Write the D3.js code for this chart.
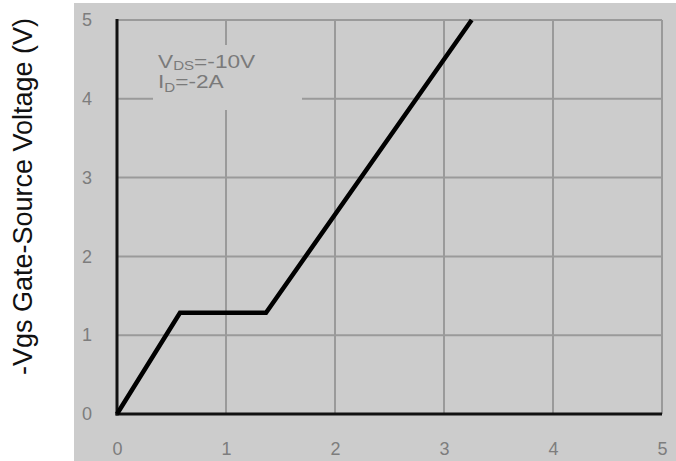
<!DOCTYPE html>
<html>
<head>
<meta charset="utf-8">
<script src="https://cdn.jsdelivr.net/npm/d3@7"></script>
<style>
html,body{margin:0;padding:0;background:#fff;}
svg{display:block;}
</style>
</head>
<body>
<svg id="chart" width="676" height="461"></svg>
<script>
// Data
const chargeX = [0, 0.578, 1.367, 3.254];      // x axis values (unlabelled, 0..5)
const vgsY    = [0, 1.285, 1.285, 5.0];        // -Vgs (V)
const xTicks  = [0, 1, 2, 3, 4, 5];
const yTicks  = [0, 1, 2, 3, 4, 5];
const yTitle  = "-Vgs Gate-Source Voltage (V)";
const noteLines = [
  {main: "V", sub: "DS", rest: "=-10V"},
  {main: "I", sub: "D", rest: "=-2A"}
];

const svg = d3.select("#chart");
const W = 676, H = 461;
const bg = "#cccccc";

svg.append("rect").attr("x", 0).attr("y", 0).attr("width", W).attr("height", H).attr("fill", "#fff");
svg.append("rect").attr("x", 74).attr("y", 3).attr("width", W - 74).attr("height", H - 3).attr("fill", bg);

const x = d3.scaleLinear().domain([0, 5]).range([117, 662]);
const y = d3.scaleLinear().domain([0, 5]).range([414, 20]);

// grid
const grid = svg.append("g").attr("stroke", "#9a9a9a").attr("stroke-width", 2);
grid.selectAll("line.v").data(xTicks.filter(d => d > 0)).enter().append("line")
  .attr("x1", d => x(d)).attr("x2", d => x(d))
  .attr("y1", y(0)).attr("y2", y(5));
grid.selectAll("line.h").data(yTicks.filter(d => d > 0)).enter().append("line")
  .attr("x1", x(0)).attr("x2", x(5))
  .attr("y1", d => y(d)).attr("y2", d => y(d));

// note box masking grid
svg.append("rect").attr("x", 153).attr("y", 45).attr("width", 149).attr("height", 65).attr("fill", bg);

// axes lines
svg.append("line").attr("x1", x(0)).attr("x2", x(0)).attr("y1", y(0) + 1.5).attr("y2", y(5) - 1)
  .attr("stroke", "#111").attr("stroke-width", 3);
svg.append("line").attr("x1", x(0) - 1.5).attr("x2", x(5)).attr("y1", y(0)).attr("y2", y(0))
  .attr("stroke", "#111").attr("stroke-width", 3);

// tick labels
const yAxis = svg.append("g").attr("transform", `translate(${x(0)},0)`)
  .call(d3.axisLeft(y).tickValues(yTicks).tickSize(0).tickPadding(25).tickFormat(d3.format("d")));
const xAxis = svg.append("g").attr("transform", `translate(0,${y(0)})`)
  .call(d3.axisBottom(x).tickValues(xTicks).tickSize(0).tickPadding(28).tickFormat(d3.format("d")));
[yAxis, xAxis].forEach(a => {
  a.select(".domain").remove();
  a.selectAll("text").attr("font-family", "Liberation Sans, Arial, sans-serif")
    .attr("font-size", 18).attr("fill", "#7d7d7d");
});

// curve
const line = d3.line().x(d => x(d[0])).y(d => y(d[1]));
svg.append("path").datum(chargeX.map((d, i) => [d, vgsY[i]]))
  .attr("d", line).attr("fill", "none").attr("stroke", "#000")
  .attr("stroke-width", 4.5).attr("stroke-linejoin", "miter");

// annotation (horizontally stretched like the reference)
noteLines.forEach((n, i) => {
  const t = svg.append("text")
    .attr("transform", `translate(158,${68 + i * 20}) scale(1.26,1)`)
    .attr("font-family", "Liberation Sans, Arial, sans-serif")
    .attr("font-size", 18).attr("fill", "#7a7a7a");
  t.append("tspan").text(n.main);
  t.append("tspan").attr("font-size", 12).attr("dy", i === 0 ? 2 : 4).text(n.sub);
  t.append("tspan").attr("dy", i === 0 ? -2 : -4).text(n.rest);
});

// y title
svg.append("text")
  .attr("transform", `translate(32,${(13 + 380) / 2}) rotate(-90)`)
  .attr("text-anchor", "middle")
  .attr("font-family", "Liberation Sans, Arial, sans-serif")
  .attr("font-size", 27).attr("fill", "#111")
  .text(yTitle);
</script>
</body>
</html>
